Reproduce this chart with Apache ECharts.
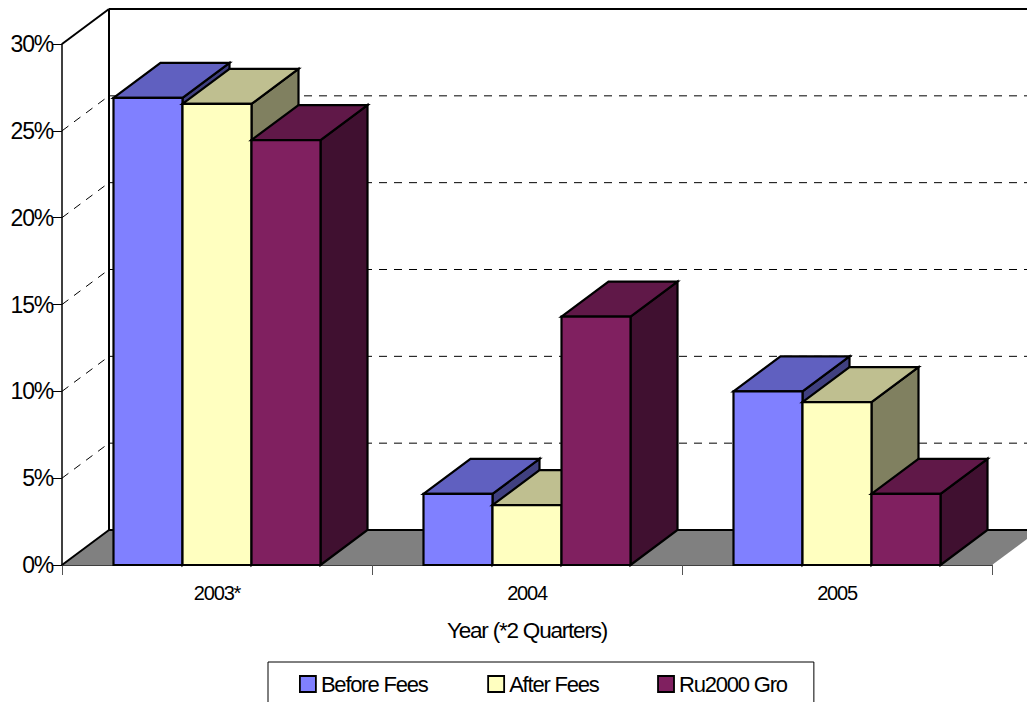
<!DOCTYPE html>
<html>
<head>
<meta charset="utf-8">
<style>
html,body{margin:0;padding:0;background:#fff;overflow:hidden}
#c{width:1027px;height:702px}
svg text{letter-spacing:-1.2px}
</style>
<script src="https://cdn.jsdelivr.net/npm/echarts@6/dist/echarts.min.js"></script>
</head>
<body>
<div id="c"></div>
<script>
const categories = ['2003*', '2004', '2005'];
const beforeFees = [26.9, 4.1, 10.0];
const afterFees = [26.55, 3.45, 9.38];
const ru2000Gro = [24.47, 14.3, 4.1];
const gridTicks = [5, 10, 15, 20, 25];

const DX = 47, DY = -35;
const FONT = '"Liberation Sans", Arial, sans-serif';
const stroke = '#000';

function poly(points, fill, lw) {
  return { type: 'polygon', shape: { points }, style: { fill, stroke, lineWidth: lw === undefined ? 2.2 : lw, lineJoin: 'miter' } };
}
function barRenderer(idx, front, top, side) {
  return function (params, api) {
    const base = api.coord([api.value(0), 0]);
    const tip = api.coord([api.value(0), api.value(1)]);
    const w = api.size([1, 0])[0] * 0.2226;
    const x0 = base[0] + (idx - 1.5) * w, x1 = x0 + w;
    const y0 = base[1], y1 = tip[1];
    return {
      type: 'group',
      children: [
        poly([[x1, y0], [x1 + DX, y0 + DY], [x1 + DX, y1 + DY], [x1, y1]], side),
        poly([[x0, y1], [x1, y1], [x1 + DX, y1 + DY], [x0 + DX, y1 + DY]], top),
        poly([[x0, y0], [x1, y0], [x1, y1], [x0, y1]], front)
      ]
    };
  };
}
function gridRenderer(params, api) {
  const left = api.coord([0, api.value(0)]);
  const xStart = params.coordSys.x, xEnd = xStart + params.coordSys.width;
  const y = left[1];
  const dash = { stroke: '#000', lineWidth: 1, lineDash: [8, 7], fill: null };
  return {
    type: 'group',
    children: [
      { type: 'line', shape: { x1: xStart, y1: y, x2: xStart + DX, y2: y + DY }, style: dash },
      { type: 'line', shape: { x1: xStart + DX, y1: y + DY, x2: xEnd + DX, y2: y + DY }, style: dash }
    ]
  };
}
function wallRenderer(params, api) {
  const cs = params.coordSys;
  const xl = cs.x, xr = cs.x + cs.width, yt = cs.y, yb = cs.y + cs.height;
  const line = { stroke: '#000', lineWidth: 2, fill: null };
  return {
    type: 'group',
    children: [
      poly([[xl, yb], [xl + DX, yb + DY], [xr + DX, yb + DY], [xr, yb]], '#808080', 0),
      { type: 'line', shape: { x1: xl, y1: yb, x2: xl + DX, y2: yb + DY }, style: line },
      { type: 'line', shape: { x1: xl + DX, y1: yb + DY, x2: xr + DX, y2: yb + DY }, style: line },
      { type: 'line', shape: { x1: xl, y1: yt, x2: xl + DX, y2: yt + DY }, style: line },
      { type: 'line', shape: { x1: xl + DX, y1: yt + DY, x2: xr + DX, y2: yt + DY }, style: line },
      { type: 'line', shape: { x1: xl + DX, y1: yt + DY, x2: xl + DX, y2: yb + DY }, style: line }
    ]
  };
}
function barSeries(name, values, idx, front, top, side) {
  return {
    name, type: 'custom', z: 5, clip: false,
    renderItem: barRenderer(idx, front, top, side),
    itemStyle: { color: front },
    encode: { x: 0, y: 1 },
    data: values.map((v, i) => [i, v])
  };
}

const chart = echarts.init(document.getElementById('c'), null, { renderer: 'svg' });
chart.setOption({
  animation: false,
  backgroundColor: '#fff',
  textStyle: { fontFamily: FONT, color: '#000' },
  grid: { left: 62, top: 44, width: 930, height: 521, containLabel: false },
  xAxis: {
    type: 'category',
    data: categories,
    axisLine: { lineStyle: { color: '#000', width: 1.5 } },
    axisTick: { show: true, alignWithLabel: false, length: 10, lineStyle: { color: '#555', width: 1 } },
    axisLabel: { fontSize: 20, fontFamily: FONT, color: '#000', margin: 18 },
    name: 'Year (*2 Quarters)',
    nameLocation: 'middle',
    nameGap: 54,
    nameTextStyle: { fontSize: 22.5, fontFamily: FONT, color: '#000' },
    splitLine: { show: false }
  },
  yAxis: {
    type: 'value',
    min: 0, max: 30, interval: 5,
    axisLine: { show: true, lineStyle: { color: '#000', width: 1.5 } },
    axisTick: { show: true, length: 9, lineStyle: { color: '#000', width: 1 } },
    axisLabel: { formatter: '{value}%', fontSize: 23, fontFamily: FONT, color: '#000', margin: 9 },
    splitLine: { show: false }
  },
  legend: {
    left: 268, top: 662,
    data: ['Before Fees', 'After Fees', 'Ru2000 Gro'],
    icon: 'rect',
    itemWidth: 16, itemHeight: 16, itemGap: 46.5,
    padding: [11, 15, 30, 31],
    borderColor: '#000', borderWidth: 1,
    backgroundColor: '#fff',
    selectedMode: false,
    itemStyle: { borderColor: '#000', borderWidth: 1.8 },
    textStyle: { fontSize: 22, fontFamily: FONT, color: '#000' }
  },
  series: [
    { name: 'walls', type: 'custom', z: 1, clip: false, renderItem: wallRenderer, data: [[0]], encode: { x: [], y: [] }, silent: true },
    { name: 'grid', type: 'custom', z: 2, clip: false, renderItem: gridRenderer, data: gridTicks.map(t => [t]), encode: { y: 0 }, silent: true },
    barSeries('Before Fees', beforeFees, 0, '#8080FF', '#6060C0', '#404080'),
    barSeries('After Fees', afterFees, 1, '#FFFFC0', '#BFBF90', '#808060'),
    barSeries('Ru2000 Gro', ru2000Gro, 2, '#802060', '#601848', '#401030')
  ]
});
</script>
</body>
</html>
